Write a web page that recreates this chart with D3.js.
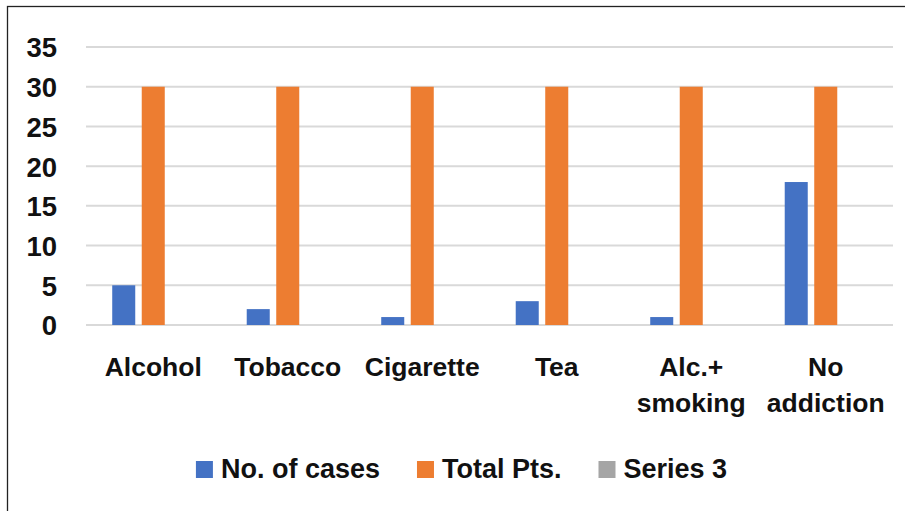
<!DOCTYPE html>
<html>
<head>
<meta charset="utf-8">
<script src="https://cdn.jsdelivr.net/npm/d3@7"></script>
<style>
  html, body { margin: 0; padding: 0; background: #fff; }
  svg { display: block; font-family: "Liberation Sans", Arial, sans-serif; font-weight: bold; }
</style>
</head>
<body>
<svg id="chart" width="905" height="511"></svg>
<script>
// Addiction pattern by category
const categories = [["Alcohol"], ["Tobacco"], ["Cigarette"], ["Tea"], ["Alc.+", "smoking"], ["No", "addiction"]];
const seriesNames = ["No. of cases", "Total Pts.", "Series 3"];
const noOfCases = [5, 2, 1, 3, 1, 18];
const totalPts = [30, 30, 30, 30, 30, 30];
const series3 = [0, 0, 0, 0, 0, 0];
const yTicks = [0, 5, 10, 15, 20, 25, 30, 35];
const colors = ["#4472C4", "#ED7D31", "#A5A5A5"];

const seriesValues = [noOfCases, totalPts, series3];
const keys = categories.map(c => c.join(" "));

const svg = d3.select("#chart");
const W = 905, H = 511;

// outer frame
svg.append("rect")
  .attr("x", 7.5).attr("y", 6.5)
  .attr("width", W + 10).attr("height", H + 10)
  .attr("fill", "#fff").attr("stroke", "#222").attr("stroke-width", 1.3);

const plot = { left: 86, right: 893, top: 47, bottom: 325 };

const x = d3.scaleBand().domain(keys)
  .range([plot.left, plot.right])
  .paddingInner(0.39).paddingOuter(0.195);
const xs = d3.scaleBand().domain(seriesNames)
  .range([0, x.bandwidth()])
  .paddingInner(0.22);
const y = d3.scaleLinear().domain([0, 35]).range([plot.bottom, plot.top]);

// gridlines
svg.append("g").selectAll("line").data(yTicks).join("line")
  .attr("x1", plot.left).attr("x2", plot.right)
  .attr("y1", d => y(d)).attr("y2", d => y(d))
  .attr("stroke", "#d9d9d9").attr("stroke-width", 2);

// y axis labels
const yAxis = d3.axisLeft(y).tickValues(yTicks).tickSize(0).tickPadding(0);
const gy = svg.append("g").attr("transform", "translate(57,0)").call(yAxis);
gy.select(".domain").remove();
gy.selectAll("text")
  .attr("font-size", 27.5).attr("font-weight", "bold")
  .attr("font-family", "Liberation Sans, Arial, sans-serif")
  .attr("fill", "#111").attr("dy", "0.36em");

// bars
const groups = svg.append("g").selectAll("g").data(keys).join("g")
  .attr("transform", k => `translate(${x(k)},0)`);
groups.selectAll("rect")
  .data((k, i) => seriesNames.map((s, j) => ({ s, j, v: seriesValues[j][i] })))
  .join("rect")
  .attr("x", d => xs(d.s))
  .attr("width", xs.bandwidth())
  .attr("y", d => y(d.v))
  .attr("height", d => y(0) - y(d.v))
  .attr("fill", d => colors[d.j]);

// category labels
const cat = svg.append("g").selectAll("text").data(categories).join("text")
  .attr("x", (c, i) => x(keys[i]) + x.bandwidth() / 2)
  .attr("y", 376)
  .attr("text-anchor", "middle")
  .attr("font-size", 26.5)
  .attr("fill", "#111");
cat.selectAll("tspan").data(c => c).join("tspan")
  .attr("x", function () { return this.parentNode.getAttribute("x"); })
  .attr("dy", (d, i) => i === 0 ? 0 : 36)
  .text(d => d);

// legend
const legend = svg.append("g");
const items = legend.selectAll("g").data(seriesNames).join("g");
items.append("rect")
  .attr("width", 17).attr("height", 17)
  .attr("y", -17)
  .attr("fill", (d, i) => colors[i]);
items.append("text")
  .attr("x", 25).attr("y", 0)
  .attr("font-size", 27)
  .attr("fill", "#111")
  .text(d => d);
let cx = 0;
const itemGap = 37;
items.each(function () {
  const w = 25 + this.querySelector("text").getComputedTextLength();
  d3.select(this).attr("transform", `translate(${cx},0)`);
  cx += w + itemGap;
});
const totalW = cx - itemGap;
legend.attr("transform", `translate(${461.5 - totalW / 2},478)`);
</script>
</body>
</html>
